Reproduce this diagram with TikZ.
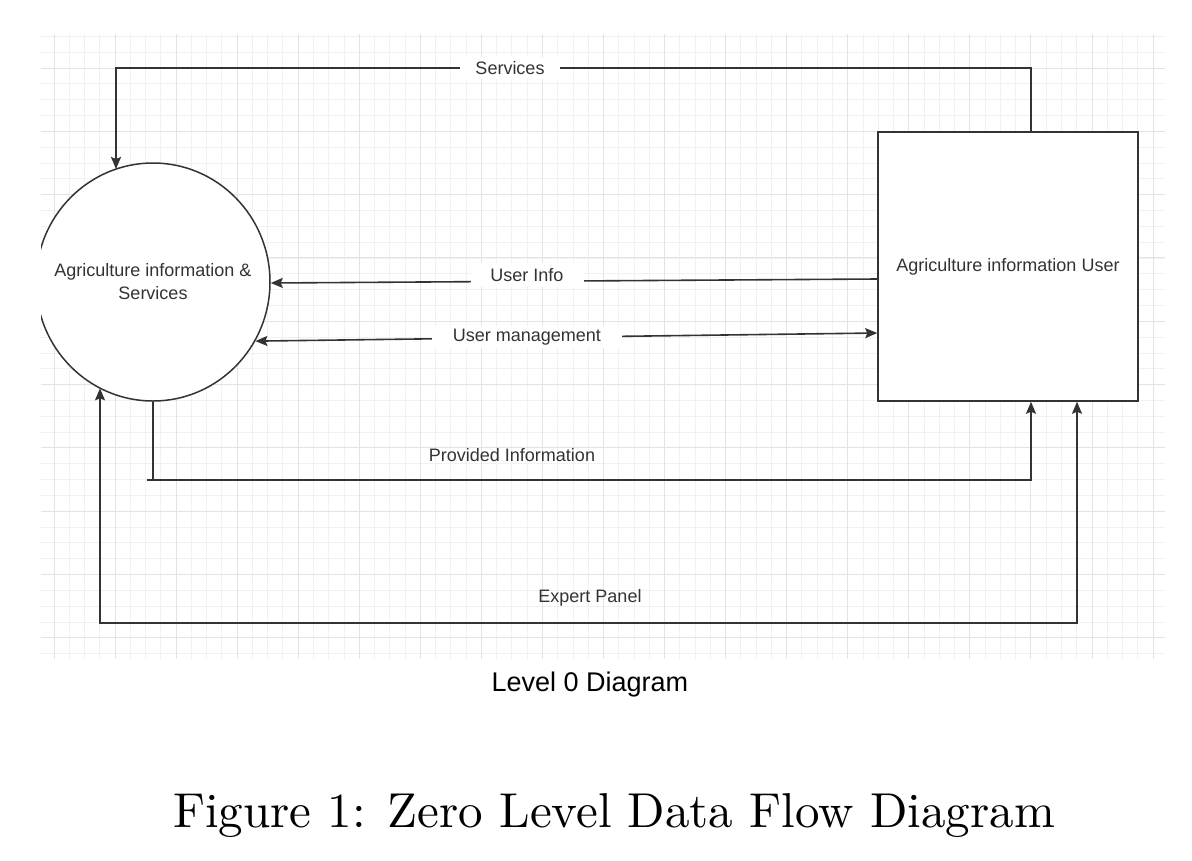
\documentclass[tikz,border=0pt]{standalone}
\usepackage{fontspec}
\newfontfamily\arialf{Liberation Sans}
\newfontfamily\capfont[Extension=.otf]{lmroman10-regular}
\usetikzlibrary{arrows.meta,shapes.geometric}
\definecolor{linec}{HTML}{333333}
\definecolor{txtc}{HTML}{333333}
\definecolor{gmin}{HTML}{F1F1F1}
\definecolor{gmaj}{HTML}{E3E3E3}
\begin{document}
\begin{tikzpicture}[x=1pt,y=-1pt,
  flow/.style={draw=linec, line width=1.6pt},
  tipend/.style={-{Stealth[length=12pt,width=10pt,inset=2pt]}},
  tipboth/.style={{Stealth[length=12pt,width=10pt,inset=2pt]}-{Stealth[length=12pt,width=10pt,inset=2pt]}},
  lbl/.style={font=\arialf\fontsize{18}{22}\selectfont, text=txtc, inner sep=0pt},
  gaplbl/.style={lbl, fill=white, minimum height=22pt},
  gridmin/.style={draw=gmin, line width=1pt},
  gridmaj/.style={draw=gmaj, line width=1pt},
  procbox/.style={ellipse, draw=linec, line width=1.5pt, fill=white,
    minimum width=234pt, minimum height=238pt, inner sep=0pt},
  proctext/.style={lbl, align=center, font=\arialf\fontsize{18}{23}\selectfont},
  entbox/.style={rectangle, draw=linec, line width=1.5pt, fill=white,
    minimum width=260pt, minimum height=269pt, inner sep=0pt,
    font=\arialf\fontsize{18}{22}\selectfont, text=txtc}]
\useasboundingbox (0,0) rectangle (1192,860);
\fill[white] (0,0) rectangle (1192,860);
% background grid
\foreach \j in {0,...,72} \draw[gridmin] ({54+15.265*\j},34) -- ({54+15.265*\j},659);
\foreach \i in {-2,...,37} \draw[gridmin] (41,{68+15.833*\i}) -- (1165,{68+15.833*\i});
\foreach \j in {0,...,18} \draw[gridmaj] ({54+61.06*\j},34) -- ({54+61.06*\j},659);
\foreach \i in {0,...,9} \draw[gridmaj] (41,{68+63.33*\i}) -- (1165,{68+63.33*\i});
% nodes
\begin{scope}
  \clip (41,0) rectangle (1192,860);
  \node[procbox] (proc) at (153,282) {};
\end{scope}
\node[proctext] (proctxt) at (proc.center) {Agriculture information \&\\Services};
\node[entbox] (ent) at (1008,266.5) {Agriculture information User};
% bend points
\coordinate (sA) at (1031,68);
\coordinate (sB) at (116,68);
\coordinate (pL) at (147,480);
\coordinate (pR) at (1031,480);
\coordinate (eR) at (1077,623);
\coordinate (eL) at (100,623);
% connectors
\draw[flow,tipend] (ent.north -| sA) -- (sA) -- (sB) -- (sB |- proc.109);
\draw[flow,tipend] ([yshift=-12.5pt]ent.west) -- ([yshift=-1pt]proc.east);
\draw[flow,tipboth] (proc.-30) -- ([yshift=-66.5pt]ent.west);
\draw[flow] (proc.south) -- (proc.south |- pL);
\draw[flow,tipend] (pL) -- (pR) -- (pR |- ent.south);
\draw[flow,tipboth] (eR |- ent.south) -- (eR) -- (eL) -- (eL |- proc.-117);
% labels
\node[gaplbl, minimum width=100pt] (svc) at (510,68) {Services};
\node[gaplbl, minimum width=113pt, minimum height=24pt] (uinfo) at (527,275) {User Info};
\node[gaplbl, minimum width=190pt] (umgmt) at (527,337) {User management};
\node[lbl] (prov) at (512,455) {Provided Information};
\node[lbl] (expert) at (590,598) {Expert Panel};
\node[anchor=base, inner sep=0pt, font=\arialf\fontsize{27}{32}\selectfont] (lvl) at (590,691) {Level 0 Diagram};
\node[anchor=base, inner sep=0pt, font=\capfont\fontsize{49}{60}\selectfont] (cap) at (614,827) {Figure 1: Zero Level Data Flow Diagram};
\end{tikzpicture}
\end{document}
